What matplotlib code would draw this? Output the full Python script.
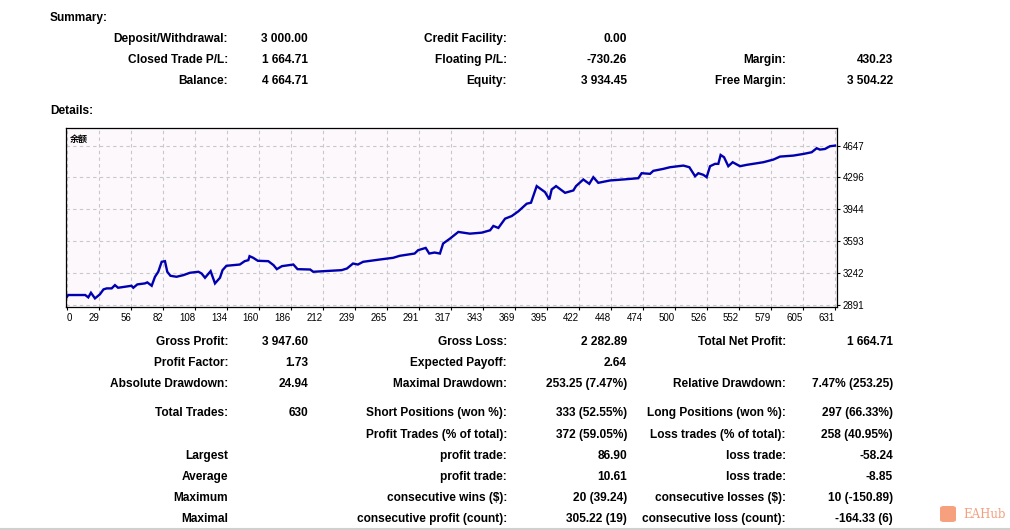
import numpy as np
import matplotlib
matplotlib.use("Agg")
import matplotlib.pyplot as plt
from matplotlib.patches import FancyBboxPatch

# balance curve (trade number, balance)
trade_no = [0, 1, 15, 17.5, 19.7, 23, 27, 30, 32.6, 36.7, 39.4, 42, 47.6, 53, 54.5,
            57.8, 64, 66, 69.6, 72.3, 75, 77.8, 80.5, 82.4, 85, 90, 95.6, 101, 108,
            110.6, 113.4, 118, 121.6, 125.7, 127.8, 131, 142, 146, 149, 150, 153,
            156.8, 165.4, 169.7, 172.4, 176.6, 186, 189.4, 199.8, 202.3, 225.6, 230,
            235, 239, 243.3, 257, 268, 273.4, 285.6, 288.5, 294.7, 297.6, 302, 306.4,
            309, 314.7, 321.5, 331, 340.7, 347.6, 350.3, 354.4, 359.9, 365.4, 370.8,
            377.7, 381.2, 385.9, 392.7, 396.3, 398.2, 401.8, 409.2, 416, 418.2, 424.2,
            426.4, 429.1, 432.4, 436.5, 442, 446.1, 457, 469.4, 472.1, 479, 481.7,
            490, 495.4, 506.4, 511.3, 516, 518.7, 522.8, 525.5, 528.3, 532.4, 535.1,
            537, 539.8, 543.3, 546.9, 552.9, 558.4, 572.1, 580.3, 585.8, 596.7, 604.9,
            611.8, 615.9, 618.6, 622.7, 626.8, 631]
balance = [2982, 3001, 3001, 2975, 3026, 2964, 3008, 3063, 3074, 3074, 3110, 3081, 3092,
           3103, 3081, 3118, 3129, 3140, 3103, 3202, 3257, 3367, 3374, 3257, 3213, 3202,
           3220, 3246, 3257, 3238, 3191, 3264, 3129, 3191, 3275, 3323, 3337, 3374, 3385,
           3429, 3411, 3378, 3374, 3330, 3286, 3319, 3337, 3286, 3282, 3257, 3275, 3293,
           3348, 3337, 3367, 3392, 3411, 3433, 3458, 3495, 3520, 3458, 3469, 3458, 3568,
           3623, 3696, 3677, 3688, 3714, 3762, 3740, 3842, 3871, 3923, 4007, 4018, 4201,
           4135, 4054, 4164, 4201, 4127, 4153, 4201, 4274, 4252, 4226, 4299, 4237, 4252,
           4263, 4274, 4288, 4343, 4336, 4369, 4391, 4409, 4427, 4409, 4310, 4343, 4325,
           4299, 4420, 4446, 4446, 4544, 4519, 4420, 4464, 4420, 4435, 4464, 4493, 4526,
           4537, 4555, 4574, 4618, 4603, 4610, 4640, 4647]

x_tick_labels = ["0", "29", "56", "82", "108", "134", "160", "186", "212", "239", "265",
                 "291", "317", "343", "369", "395", "422", "448", "474", "500", "526",
                 "552", "579", "605", "631"]
y_tick_labels = ["2891", "3242", "3593", "3944", "4296", "4647"]

summary_left_labels = ["Deposit/Withdrawal:", "Closed Trade P/L:", "Balance:"]
summary_left_values = ["3 000.00", "1 664.71", "4 664.71"]
summary_mid_labels = ["Credit Facility:", "Floating P/L:", "Equity:"]
summary_mid_values = ["0.00", "-730.26", "3 934.45"]
summary_right_labels = ["", "Margin:", "Free Margin:"]
summary_right_values = ["", "430.23", "3 504.22"]

details_left_labels = ["Gross Profit:", "Profit Factor:", "Absolute Drawdown:", "Total Trades:",
                       "", "Largest", "Average", "Maximum", "Maximal"]
details_left_values = ["3 947.60", "1.73", "24.94", "630", "", "", "", "", ""]
details_mid_labels = ["Gross Loss:", "Expected Payoff:", "Maximal Drawdown:",
                      "Short Positions (won %):", "Profit Trades (% of total):",
                      "profit trade:", "profit trade:", "consecutive wins ($):",
                      "consecutive profit (count):"]
details_mid_values = ["2 282.89", "2.64", "253.25 (7.47%)", "333 (52.55%)", "372 (59.05%)",
                      "86.90", "10.61", "20 (39.24)", "305.22 (19)"]
details_right_labels = ["Total Net Profit:", "", "Relative Drawdown:", "Long Positions (won %):",
                        "Loss trades (% of total):", "loss trade:", "loss trade:",
                        "consecutive losses ($):", "consecutive loss (count):"]
details_right_values = ["1 664.71", "", "7.47% (253.25)", "297 (66.33%)", "258 (40.95%)",
                        "-58.24", "-8.85", "10 (-150.89)", "-164.33 (6)"]

W, H = 1010, 530
fig = plt.figure(figsize=(W / 100, H / 100), dpi=100)
fig.patch.set_facecolor("white")

def fx(px):
    return px / W

def fy(py):
    return 1 - py / H

FONT = "Liberation Sans"
FS = 8.6

def txt(px, py, s, ha="left", weight="bold"):
    if s:
        fig.text(fx(px), fy(py + 1), s, ha=ha, va="center", fontsize=FS,
                 fontweight=weight, family=FONT, color="black")

# summary block
txt(50, 17, "Summary:")
sum_rows = [38, 59, 80]
for i, py in enumerate(sum_rows):
    txt(228, py, summary_left_labels[i], ha="right")
    txt(308, py, summary_left_values[i], ha="right")
    txt(507, py, summary_mid_labels[i], ha="right")
    txt(627, py, summary_mid_values[i], ha="right")
    txt(786, py, summary_right_labels[i], ha="right")
    txt(893, py, summary_right_values[i], ha="right")

txt(50, 110, "Details:")

# balance chart
ax = fig.add_axes([fx(66), fy(307), fx(837 - 66), (307 - 128) / H])
ax.set_facecolor("#fcf8fc")
ax.plot(trade_no, balance, color="#0000b0", lw=1.7, solid_joinstyle="miter")

x_pos = np.linspace(0, 631, len(x_tick_labels))
y_pos = np.linspace(2891, 4647, len(y_tick_labels))
ax.set_xlim(-0.8, 632.6)
ax.set_ylim(2869, 4841)
ax.set_xticks(x_pos)
ax.set_xticklabels(x_tick_labels, family=FONT, fontsize=7)
for i, lab in enumerate(ax.get_xticklabels()):
    lab.set_ha("left" if i == 0 else "right")
ax.set_yticks(y_pos)
ax.set_yticklabels(y_tick_labels, family=FONT, fontsize=7)
ax.yaxis.tick_right()
ax.tick_params(axis="x", length=2, width=0.8, pad=2, color="black")
ax.tick_params(axis="y", length=2, width=0.8, pad=2, color="black")
ax.grid(True, color="#c8c8c8", linestyle=(0, (3, 3)), linewidth=0.8)
for s in ax.spines.values():
    s.set_color("black")
    s.set_linewidth(0.9)
ax.text(0.005, 0.96, "余额", transform=ax.transAxes, fontsize=6.5, fontweight="bold",
        family=["Noto Sans CJK SC", "DejaVu Sans"], ha="left", va="top")

# details block
det_rows = [341, 362, 383, 412, 434, 455, 476, 497, 518]
for i, py in enumerate(det_rows):
    txt(228, py, details_left_labels[i], ha="right")
    txt(308, py, details_left_values[i], ha="right")
    txt(507, py, details_mid_labels[i], ha="right")
    txt(627, py, details_mid_values[i], ha="right")
    txt(786, py, details_right_labels[i], ha="right")
    txt(893, py, details_right_values[i], ha="right")

# bottom separator
fig.add_artist(plt.Line2D([0, 1], [fy(528.5), fy(528.5)], color="#d0d0d0", lw=1.5))

# watermark
fig.add_artist(FancyBboxPatch((fx(940), fy(522)), fx(16), 16 / H,
                              boxstyle="round,pad=0,rounding_size=0.004",
                              facecolor="#f7a07e", edgecolor="none"))
fig.text(fx(963), fy(514), "EAHub", fontsize=8.5, family="DejaVu Serif",
         color="#f4a07e", ha="left", va="center")

fig.savefig("out.png", dpi=100)
